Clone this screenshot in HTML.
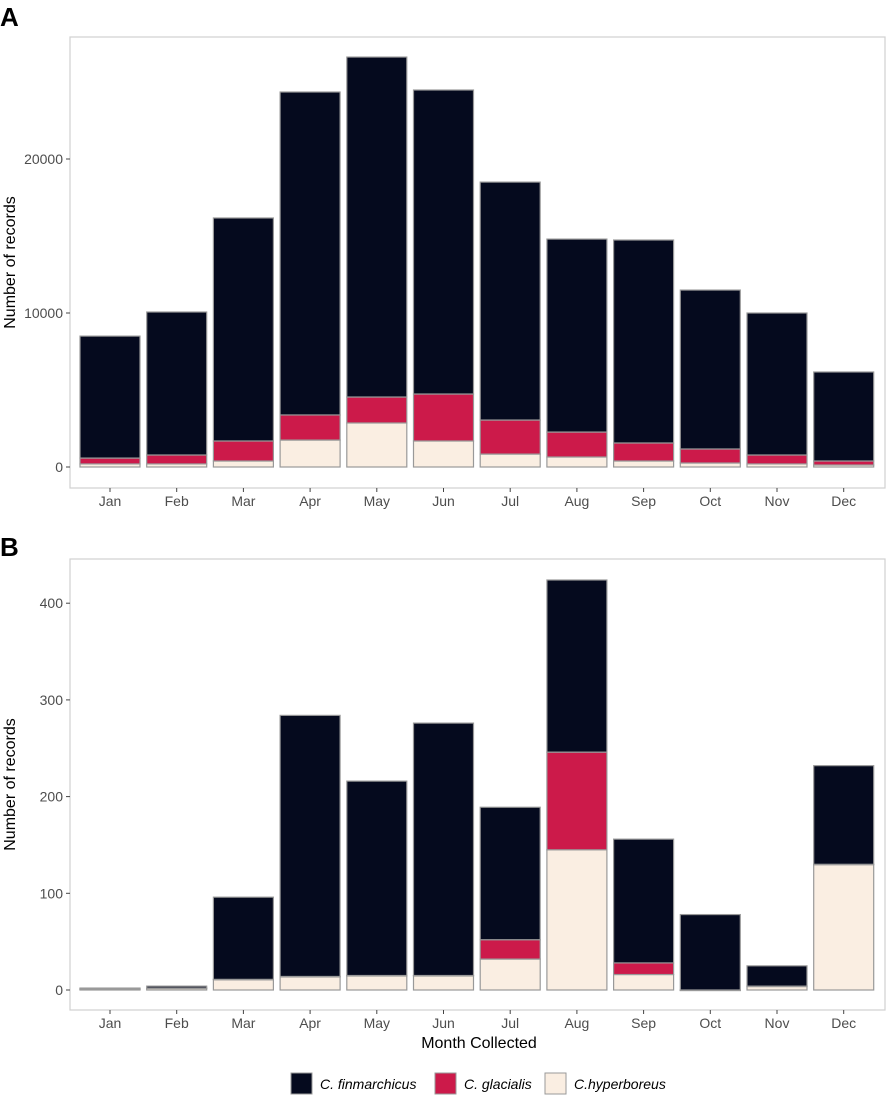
<!DOCTYPE html>
<html><head><meta charset="utf-8"><style>
body{margin:0;background:#fff;}
svg text{font-family:"Liberation Sans",sans-serif;}
</style></head><body>
<svg id="chart" width="886" height="1095" xmlns="http://www.w3.org/2000/svg">
<text x="0" y="26" font-size="26" font-weight="bold">A</text>
<text x="0" y="556" font-size="26" font-weight="bold">B</text>
<g id="pa"></g>
<g id="pb"></g>
<text x="479" y="1048" font-size="16" text-anchor="middle" fill="#000">Month Collected</text>
<g>
<g><rect x="291" y="1073" width="21" height="21" fill="#050a1e" stroke="#999"/><text x="320" y="1089" font-size="14" font-style="italic">C. finmarchicus</text></g>
<g><rect x="435" y="1073" width="21" height="21" fill="#cc1a4a" stroke="#999"/><text x="464" y="1089" font-size="14" font-style="italic">C. glacialis</text></g>
<g><rect x="545" y="1073" width="21" height="21" fill="#faeee2" stroke="#999"/><text x="574" y="1089" font-size="14" font-style="italic">C.hyperboreus</text></g>
</g>
</svg>
<script>
const months=["Jan","Feb","Mar","Apr","May","Jun","Jul","Aug","Sep","Oct","Nov","Dec"];
const hyperA=[200,200,390,1750,2860,1690,840,650,390,260,200,130];
const glacA=[380,580,1300,1630,1685,3050,2210,1620,1170,910,580,260];
const finA=[7920,9285,14480,20970,22075,19740,15450,12530,13180,10320,9220,5780];
const ticksA=[0,10000,20000];
const hyperB=[1,2,11,14,15,15,32,145,16,0,4,130];
const glacB=[0,0,0,0,0,0,20,101,12,0,0,0];
const finB=[1,2,85,270,201,261,137,178,128,78,21,102];
const ticksB=[0,100,200,300,400];
const colors=["#faeee2","#cc1a4a","#050a1e"];
const names=["hyperboreus","glacialis","finmarchicus"];
const NS="http://www.w3.org/2000/svg";
function mk(p,t,a){const e=document.createElementNS(NS,t);for(const k in a)e.setAttribute(k,a[k]);p.appendChild(e);return e;}
function panel(g,top,bottom,y0,yScale,series,ticks,key){
  const left=70,right=885;
  const yf=v=>y0-v*yScale;
  const xf=i=>110+i*66.7;
  const fr=mk(g,'rect',{x:left,y:top,width:right-left,height:bottom-top,fill:'none',stroke:'#d0d0d0','stroke-width':1.2});
  
  
  ticks.forEach(t=>{
    const y=yf(t);
    const l=mk(g,'line',{x1:left-4,x2:left,y1:y,y2:y,stroke:'#444'});
    
    
    const tx=mk(g,'text',{x:left-7,y:y+5,'font-size':14,'text-anchor':'end',fill:'#4d4d4d'});tx.textContent=t;
    
    
  });
  months.forEach((m,i)=>{
    const x=xf(i);
    const l=mk(g,'line',{x1:x,x2:x,y1:bottom,y2:bottom+4,stroke:'#444'});
    
    
    const tx=mk(g,'text',{x:x,y:bottom+18,'font-size':14,'text-anchor':'middle',fill:'#4d4d4d'});tx.textContent=m;
    
    
    let acc=0;
    series.forEach((s,k)=>{
      const v=s[i];
      const r=mk(g,'rect',{x:x-30,y:yf(acc+v),width:60,height:Math.max(v*yScale,0.5),fill:colors[k],stroke:'#999','stroke-width':1.2});
      
      
      acc+=v;
    });
  });
  const yt=mk(g,'text',{x:0,y:0,'font-size':16,'text-anchor':'middle',transform:`translate(15,${(top+bottom)/2}) rotate(-90)`});
  yt.textContent='Number of records';
  
  
}
panel(document.getElementById('pa'),37,488,467,154/10000,[hyperA,glacA,finA],ticksA,'a');
panel(document.getElementById('pb'),559,1010,990,96.7/100,[hyperB,glacB,finB],ticksB,'b');
</script>
</body></html>
